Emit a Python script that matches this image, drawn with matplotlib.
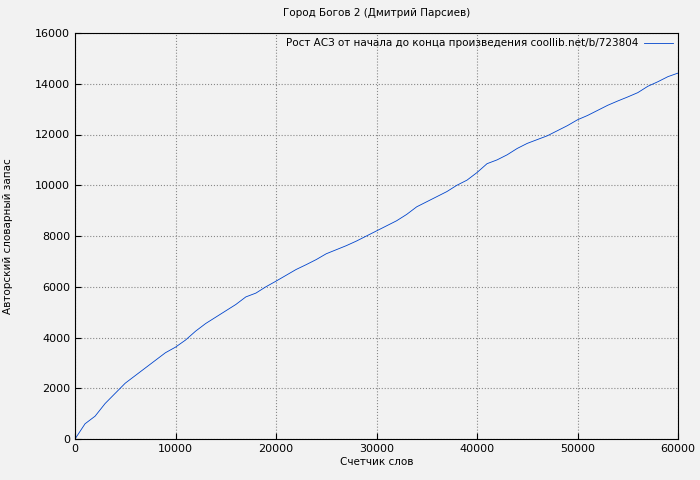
import matplotlib
matplotlib.use("Agg")
import matplotlib.pyplot as plt

words = [0,1000,2000,3000,4000,5000,6000,7000,8000,9000,10000,11000,12000,13000,14000,15000,16000,17000,18000,19000,20000,
         21000,22000,23000,24000,25000,26000,27000,28000,29000,30000,31000,32000,33000,34000,35000,36000,37000,38000,39000,40000,
         41000,42000,43000,44000,45000,46000,47000,48000,49000,50000,51000,52000,53000,54000,55000,56000,57000,58000,59000,60000]
vocab = [0,600,900,1400,1800,2200,2500,2800,3100,3400,3620,3900,4250,4550,4800,5050,5300,5600,5750,6000,6220,
         6450,6680,6870,7070,7300,7460,7620,7800,8000,8200,8400,8600,8850,9150,9350,9550,9750,10000,10200,10500,
         10850,11000,11200,11450,11650,11800,11950,12150,12350,12580,12750,12950,13150,13320,13480,13650,13900,14080,14280,14420]

fig = plt.figure(figsize=(7, 4.8), dpi=100, facecolor="#f2f2f2")
ax = fig.add_axes([75/700, 1-439/480, 603/700, 406/480], facecolor="#f2f2f2")
ax.plot(words, vocab, color="#0044cc", lw=0.6, label="Рост АСЗ от начала до конца произведения coollib.net/b/723804")
ax.set_xlim(0, 60000)
ax.set_ylim(0, 16000)
ax.set_xticks(range(0, 60001, 10000))
ax.set_yticks(range(0, 16001, 2000))
ax.tick_params(labelsize=8, direction="in", length=4)
ax.grid(True, color="#888888", linestyle=":", lw=0.8)
ax.set_xlabel("Счетчик слов", fontsize=7.5, labelpad=2)
ax.set_ylabel("Авторский словарный запас", fontsize=7.5)
ax.yaxis.set_label_coords(-62/603, 0.5)
ax.set_title("Город Богов 2 (Дмитрий Парсиев)", fontsize=7.5, pad=12)
ax.title.set_position((0.5, 1.0))
ax.title.set_y(1.0 + 6/406)
ax.legend(loc="upper right", frameon=False, fontsize=7.5, markerfirst=False, handlelength=2.8,
          handletextpad=0.5, borderaxespad=0.1)
fig.savefig("out.png", dpi=100, facecolor=fig.get_facecolor())
